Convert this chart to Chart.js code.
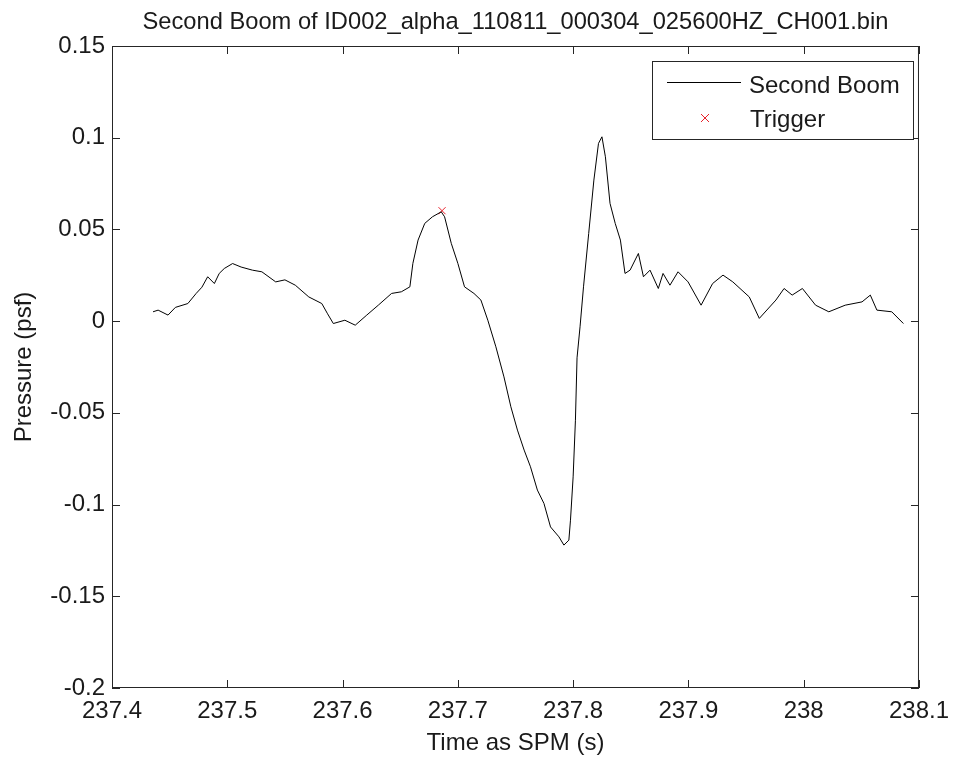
<!DOCTYPE html>
<html>
<head>
    <title>Second Boom</title>
    <script src="https://cdn.jsdelivr.net/npm/chart.js"></script>
    <style>
        body {
            margin: 0;
            background-color: white;
        }
        .chart-container {
            position: relative;
            width: 958px;
            height: 757px;
        }
    </style>
</head>
<body>
    <div class="chart-container">
        <canvas id="boomChart"></canvas>
    </div>

    <script>
        // values
        const times = [
            237.4356, 237.4400, 237.4486, 237.4550, 237.4658, 237.4730, 237.4780, 237.4830, 237.4888, 237.4930,
            237.4974, 237.5046, 237.5120, 237.5218, 237.5300, 237.5420, 237.5500, 237.5590, 237.5707, 237.5820,
            237.5870, 237.5920, 237.6020, 237.6110, 237.6210, 237.6310, 237.6425, 237.6510, 237.6584, 237.6610,
            237.6655, 237.6713, 237.6780, 237.6856, 237.6885, 237.6943, 237.7000, 237.7058, 237.7140, 237.7200,
            237.7260, 237.7330, 237.7400, 237.7460, 237.7517, 237.7575, 237.7630, 237.7690, 237.7747, 237.7804,
            237.7877, 237.7920, 237.7963, 237.7977, 237.8000, 237.8020, 237.8034, 237.8060, 237.8090, 237.8135,
            237.8180, 237.8220, 237.8250, 237.8280, 237.8320, 237.8365, 237.8410, 237.8450, 237.8494, 237.8566,
            237.8610, 237.8667, 237.8739, 237.8780, 237.8840, 237.8910, 237.8997, 237.9110, 237.9210, 237.9300,
            237.9385, 237.9528, 237.9615, 237.9759, 237.9830, 237.9900, 237.9989, 238.0103, 238.0218, 238.0360,
            238.0506, 238.0578, 238.0635, 238.0764, 238.0865
        ];
        const pressure = [
            0.0051, 0.0060, 0.0033, 0.0075, 0.0096, 0.0151, 0.0185, 0.0242, 0.0205, 0.0260,
            0.0287, 0.0314, 0.0295, 0.0278, 0.0269, 0.0214, 0.0225, 0.0196, 0.0132, 0.0096,
            0.0040, -0.0013, 0.0005, -0.0022, 0.0033, 0.0087, 0.0151, 0.0160, 0.0187, 0.0315,
            0.0442, 0.0533, 0.0569, 0.0596, 0.0569, 0.0424, 0.0315, 0.0187, 0.0151, 0.0115,
            0.0005, -0.0140, -0.0304, -0.0467, -0.0594, -0.0703, -0.0794, -0.0921, -0.0994, -0.1122,
            -0.1176, -0.1221, -0.1194, -0.1085, -0.0849, -0.0540, -0.0200, -0.0031, 0.0187, 0.0478,
            0.0769, 0.0969, 0.1005, 0.0896, 0.0642, 0.0533, 0.0442, 0.0260, 0.0278, 0.0369,
            0.0242, 0.0278, 0.0178, 0.0260, 0.0196, 0.0269, 0.0214, 0.0087, 0.0205, 0.0251,
            0.0214, 0.0132, 0.0015, 0.0115, 0.0178, 0.0142, 0.0178, 0.0087, 0.0051, 0.0087,
            0.0105, 0.0142, 0.0060, 0.0051, -0.0013
        ];
        const triggerTime = [237.6863];
        const triggerPressure = [0.0602];

        const xTicks = [237.4, 237.5, 237.6, 237.7, 237.8, 237.9, 238.0, 238.1];
        const yTicks = [-0.2, -0.15, -0.1, -0.05, 0, 0.05, 0.1, 0.15];

        const titleText = 'Second Boom of ID002_alpha_110811_000304_025600HZ_CH001.bin';
        const xLabel = 'Time as SPM (s)';
        const yLabel = 'Pressure (psf)';
        const seriesNames = ['Second Boom', 'Trigger'];

        const FONT = '"Liberation Sans", Arial, sans-serif';
        const TEXT = '#1a1a1a';
        const TICK_LEN = 8;

        function fmt(v) {
            return String(Number(v.toFixed(2)));
        }

        // box, inward ticks on all four sides, title, axis labels and legend
        const matlabAxes = {
            id: 'matlabAxes',
            afterDraw(chart) {
                const ctx = chart.ctx;
                const a = chart.chartArea;
                const xs = chart.scales.x;
                const ys = chart.scales.y;
                ctx.save();
                ctx.strokeStyle = '#262626';
                ctx.lineWidth = 1;
                ctx.strokeRect(a.left + 0.5, a.top + 0.5, a.right - a.left - 1, a.bottom - a.top - 1);

                ctx.beginPath();
                xTicks.forEach(v => {
                    const px = Math.round(xs.getPixelForValue(v)) + 0.5;
                    ctx.moveTo(px, a.bottom);
                    ctx.lineTo(px, a.bottom - TICK_LEN);
                    ctx.moveTo(px, a.top);
                    ctx.lineTo(px, a.top + TICK_LEN);
                });
                yTicks.forEach(v => {
                    const py = Math.round(ys.getPixelForValue(v)) + 0.5;
                    ctx.moveTo(a.left, py);
                    ctx.lineTo(a.left + TICK_LEN, py);
                    ctx.moveTo(a.right, py);
                    ctx.lineTo(a.right - TICK_LEN, py);
                });
                ctx.stroke();

                ctx.fillStyle = TEXT;
                ctx.textAlign = 'center';
                ctx.textBaseline = 'alphabetic';
                const cx = (a.left + a.right) / 2;
                ctx.font = '23.7px ' + FONT;
                ctx.fillText(titleText, cx, 29);
                ctx.font = '24px ' + FONT;
                ctx.fillText(xLabel, cx, 750);

                ctx.save();
                ctx.translate(31, (a.top + a.bottom) / 2);
                ctx.rotate(-Math.PI / 2);
                ctx.fillText(yLabel, 0, 0);
                ctx.restore();

                // legend
                const lx = 652, ly = 61, lw = 261, lh = 78;
                ctx.fillStyle = 'white';
                ctx.fillRect(lx, ly, lw, lh);
                ctx.strokeStyle = '#262626';
                ctx.strokeRect(lx + 0.5, ly + 0.5, lw, lh);
                ctx.beginPath();
                ctx.moveTo(667, 82.5);
                ctx.lineTo(741, 82.5);
                ctx.strokeStyle = '#000';
                ctx.stroke();
                ctx.strokeStyle = '#e8202a';
                ctx.beginPath();
                ctx.moveTo(701, 114);
                ctx.lineTo(709, 122);
                ctx.moveTo(709, 114);
                ctx.lineTo(701, 122);
                ctx.stroke();
                ctx.fillStyle = TEXT;
                ctx.textAlign = 'left';
                ctx.fillText(seriesNames[0], 749, 93);
                ctx.fillText(seriesNames[1], 750, 127);
                ctx.restore();
            }
        };

        const ctx = document.getElementById('boomChart').getContext('2d');
        new Chart(ctx, {
            type: 'scatter',
            data: {
                datasets: [{
                    label: seriesNames[0],
                    data: times.map((t, i) => ({ x: t, y: pressure[i] })),
                    showLine: true,
                    borderColor: '#000',
                    borderWidth: 1,
                    pointRadius: 0,
                    tension: 0
                }, {
                    label: seriesNames[1],
                    data: triggerTime.map((t, i) => ({ x: t, y: triggerPressure[i] })),
                    pointStyle: 'crossRot',
                    pointRadius: 5,
                    borderColor: '#e8202a',
                    backgroundColor: '#e8202a',
                    borderWidth: 1
                }]
            },
            options: {
                responsive: true,
                maintainAspectRatio: false,
                animation: false,
                layout: {
                    padding: { top: 46, right: 35, left: 0, bottom: 0 }
                },
                scales: {
                    x: {
                        type: 'linear',
                        min: 237.4,
                        max: 238.1,
                        afterBuildTicks: scale => { scale.ticks = xTicks.map(v => ({ value: v })); },
                        afterFit: scale => { scale.height = 69; },
                        grid: { display: false, drawTicks: false },
                        border: { display: false },
                        ticks: {
                            callback: v => fmt(v),
                            color: TEXT,
                            font: { family: FONT, size: 24 },
                            padding: 9,
                            maxRotation: 0,
                            autoSkip: false
                        }
                    },
                    y: {
                        min: -0.2,
                        max: 0.15,
                        afterBuildTicks: scale => { scale.ticks = yTicks.map(v => ({ value: v })); },
                        afterFit: scale => { scale.width = 112; },
                        grid: { display: false, drawTicks: false },
                        border: { display: false },
                        ticks: {
                            callback: v => fmt(v),
                            color: TEXT,
                            font: { family: FONT, size: 24 },
                            padding: 7,
                            autoSkip: false
                        }
                    }
                },
                plugins: {
                    legend: { display: false },
                    title: { display: false },
                    tooltip: { enabled: false }
                }
            },
            plugins: [matlabAxes]
        });
    </script>
</body>
</html>
